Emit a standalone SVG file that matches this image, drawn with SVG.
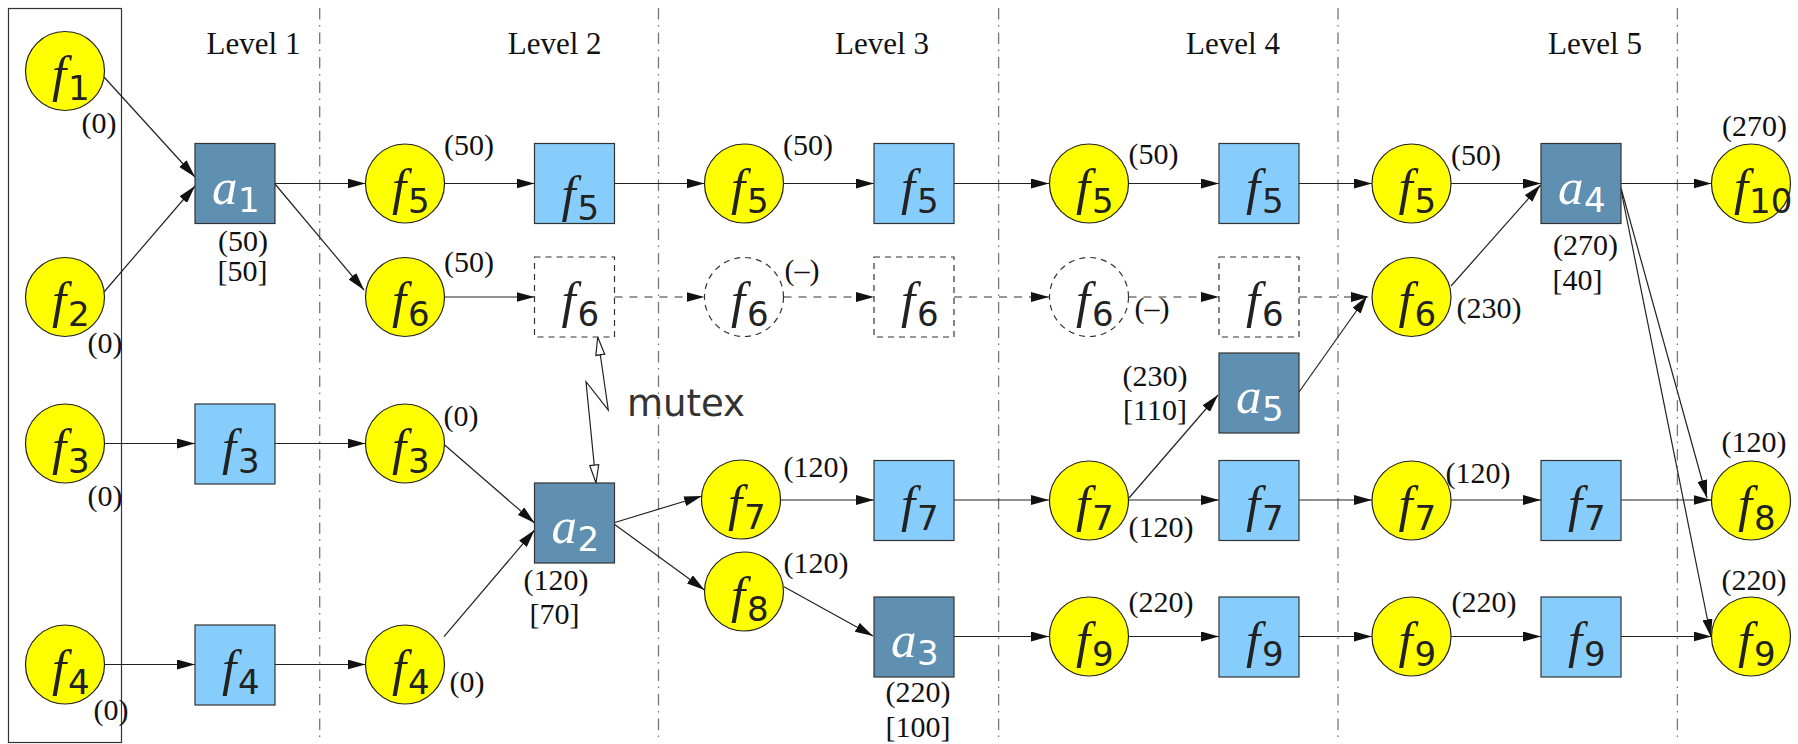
<svg xmlns="http://www.w3.org/2000/svg" width="1798" height="744" viewBox="0 0 1798 744">
<defs>
<style>
.c{fill:#ffff00;stroke:#222;stroke-width:1.2}
.cd{fill:none;stroke:#333;stroke-width:1.2;stroke-dasharray:6 5}
.sq{fill:#87cdfb;stroke:#333;stroke-width:1.2}
.dk{fill:#5f8fb1;stroke:#333;stroke-width:1.2}
.sqd{fill:none;stroke:#333;stroke-width:1.2;stroke-dasharray:6 5}
.f{font-family:'Liberation Serif',serif;font-style:italic;font-size:51px;fill:#222}
.s{font-family:'DejaVu Sans',sans-serif;font-style:normal;font-size:34px}
.w{fill:#fff}
.n{font-family:'Liberation Serif',serif;font-size:30px;fill:#111;text-anchor:middle}
.lv{font-family:'Liberation Serif',serif;font-size:31px;fill:#111;text-anchor:middle}
.mx{font-family:'DejaVu Sans',sans-serif;font-size:37px;fill:#333}
.e{fill:none;stroke:#222;stroke-width:1.2;marker-end:url(#ah)}
.ed{fill:none;stroke:#777;stroke-width:1.5;stroke-dasharray:8 7;marker-end:url(#ah)}
.sep{stroke:#777;stroke-width:1.3;stroke-dasharray:11.5 5.5 1.5 6}
.mu{fill:none;stroke:#222;stroke-width:1.2;marker-start:url(#oh);marker-end:url(#oh)}
</style>
<marker id="ah" markerUnits="userSpaceOnUse" markerWidth="18" markerHeight="10" refX="18" refY="5" orient="auto"><path d="M0,0 L18,5 L0,10 z" fill="#111"/></marker>
<marker id="oh" markerUnits="userSpaceOnUse" markerWidth="20" markerHeight="12" refX="19" refY="5.5" orient="auto-start-reverse"><path d="M1,1 L19,5.5 L1,10 z" fill="#fff" stroke="#222" stroke-width="1.2"/></marker>
</defs>
<rect width="1798" height="744" fill="#fff"/>

<g id="frame">
<rect x="8.5" y="8.5" width="113" height="734" fill="none" stroke="#333" stroke-width="1.2"/>
<line class="sep" x1="319.7" y1="8" x2="319.7" y2="738"/>
<line class="sep" x1="658.5" y1="8" x2="658.5" y2="738"/>
<line class="sep" x1="998.6" y1="8" x2="998.6" y2="738"/>
<line class="sep" x1="1338" y1="8" x2="1338" y2="738"/>
<line class="sep" x1="1677.4" y1="8" x2="1677.4" y2="738"/>
<text class="lv" x="253.5" y="54">Level 1</text>
<text class="lv" x="554.7" y="54">Level 2</text>
<text class="lv" x="882" y="54">Level 3</text>
<text class="lv" x="1233" y="54">Level 4</text>
<text class="lv" x="1595" y="54">Level 5</text>
</g>

<g id="connectors">
<line class="e" x1="104" y1="77" x2="195" y2="177"/>
<line class="e" x1="104" y1="292" x2="195" y2="186"/>
<line class="e" x1="275" y1="183.5" x2="365.5" y2="183.5"/>
<line class="e" x1="275" y1="184" x2="364" y2="290"/>
<line class="e" x1="104.5" y1="443.5" x2="195" y2="443.5"/>
<line class="e" x1="104.5" y1="664.5" x2="195" y2="664.5"/>
<line class="e" x1="275" y1="443.5" x2="365.5" y2="443.5"/>
<line class="e" x1="275" y1="664.5" x2="365.5" y2="664.5"/>
<line class="e" x1="444.5" y1="183.5" x2="534.5" y2="183.5"/>
<line class="e" x1="444.5" y1="297" x2="534.5" y2="297"/>
<line class="e" x1="444.7" y1="445" x2="534.6" y2="523"/>
<line class="e" x1="444" y1="636.7" x2="534.6" y2="530"/>
<line class="e" x1="614.5" y1="183.5" x2="704.5" y2="183.5"/>
<line class="ed" x1="614.5" y1="297" x2="704.5" y2="297"/>
<line class="e" x1="614" y1="522.7" x2="702" y2="496"/>
<line class="e" x1="614" y1="524" x2="704.5" y2="590"/>
<line class="e" x1="783.5" y1="183.5" x2="874" y2="183.5"/>
<line class="ed" x1="783.5" y1="297" x2="874" y2="297"/>
<line class="e" x1="780.5" y1="500" x2="874" y2="500"/>
<line class="e" x1="784" y1="586.7" x2="873" y2="636"/>
<line class="e" x1="954" y1="183.5" x2="1049" y2="183.5"/>
<line class="ed" x1="954" y1="297" x2="1049" y2="297"/>
<line class="e" x1="954" y1="500" x2="1049" y2="500"/>
<line class="e" x1="954" y1="636.5" x2="1049" y2="636.5"/>
<line class="e" x1="1128.5" y1="183.5" x2="1219" y2="183.5"/>
<line class="ed" x1="1128.5" y1="297" x2="1219" y2="297"/>
<line class="e" x1="1129" y1="498" x2="1218" y2="395"/>
<line class="e" x1="1128.5" y1="500" x2="1219" y2="500"/>
<line class="e" x1="1128.5" y1="636.5" x2="1219" y2="636.5"/>
<line class="e" x1="1299" y1="183.5" x2="1372" y2="183.5"/>
<line class="ed" x1="1299" y1="297" x2="1369" y2="297"/>
<line class="e" x1="1299" y1="392" x2="1367" y2="296"/>
<line class="e" x1="1299" y1="500" x2="1372" y2="500"/>
<line class="e" x1="1299" y1="636.5" x2="1372" y2="636.5"/>
<line class="e" x1="1451" y1="183.5" x2="1541" y2="183.5"/>
<line class="e" x1="1451" y1="286" x2="1540.5" y2="185"/>
<line class="e" x1="1451" y1="500" x2="1541" y2="500"/>
<line class="e" x1="1451" y1="636.5" x2="1541" y2="636.5"/>
<line class="e" x1="1621" y1="183.5" x2="1711.5" y2="183.5"/>
<line class="e" x1="1621" y1="188" x2="1707" y2="498"/>
<line class="e" x1="1621" y1="190" x2="1711" y2="637"/>
<line class="e" x1="1621" y1="500" x2="1711.5" y2="500"/>
<line class="e" x1="1621" y1="636.5" x2="1711.5" y2="636.5"/>
<path class="mu" d="M597.7,337 L608.3,410 L586,381.7 L596,483"/>
<text class="mx" x="627" y="416">mutex</text>
</g>

<g id="n_f1"><circle class="c" cx="65" cy="71" r="39.5"/><text class="f" x="52" y="91">f<tspan class="s" x="68" y="100">1</tspan></text><text class="n" x="99" y="133">(0)</text></g>
<g id="n_f2"><circle class="c" cx="65" cy="297" r="39.5"/><text class="f" x="52" y="317">f<tspan class="s" x="68" y="326">2</tspan></text><text class="n" x="105" y="353">(0)</text></g>
<g id="n_f3"><circle class="c" cx="65" cy="443.5" r="39.5"/><text class="f" x="52" y="463.5">f<tspan class="s" x="68" y="472.5">3</tspan></text><text class="n" x="105" y="506">(0)</text></g>
<g id="n_f4"><circle class="c" cx="65" cy="664.5" r="39.5"/><text class="f" x="52" y="684.5">f<tspan class="s" x="68" y="693.5">4</tspan></text><text class="n" x="111" y="720">(0)</text></g>

<g id="n_a1"><rect class="dk" x="195" y="143.5" width="80" height="80"/><text class="f w" x="212" y="203.5">a<tspan class="s" x="238" y="211.5">1</tspan></text><text class="n" x="243" y="251">(50)</text><text class="n" x="242.5" y="281">[50]</text></g>
<g id="n_f3b"><rect class="sq" x="195" y="404" width="80" height="80"/><text class="f" x="222" y="464">f<tspan class="s" x="238" y="473">3</tspan></text></g>
<g id="n_f4b"><rect class="sq" x="195" y="625" width="80" height="80"/><text class="f" x="222" y="685">f<tspan class="s" x="238" y="694">4</tspan></text></g>

<g id="n_f5c2"><circle class="c" cx="405" cy="183.5" r="39.5"/><text class="f" x="392" y="203.5">f<tspan class="s" x="408" y="212.5">5</tspan></text><text class="n" x="469" y="155">(50)</text></g>
<g id="n_f6c2"><circle class="c" cx="405" cy="297" r="39.5"/><text class="f" x="392" y="317">f<tspan class="s" x="408" y="326">6</tspan></text><text class="n" x="469" y="272">(50)</text></g>
<g id="n_f3c2"><circle class="c" cx="405" cy="443.5" r="39.5"/><text class="f" x="392" y="463.5">f<tspan class="s" x="408" y="472.5">3</tspan></text><text class="n" x="461" y="426">(0)</text></g>
<g id="n_f4c2"><circle class="c" cx="405" cy="664.5" r="39.5"/><text class="f" x="392" y="684.5">f<tspan class="s" x="408" y="693.5">4</tspan></text><text class="n" x="467" y="692">(0)</text></g>

<g id="n_f5b2"><rect class="sq" x="534.5" y="143.5" width="80" height="80"/><text class="f" x="561.5" y="211">f<tspan class="s" x="577.5" y="220">5</tspan></text></g>
<g id="n_f6b2"><rect class="sqd" x="534.5" y="257" width="80" height="80"/><text class="f" x="561.5" y="317">f<tspan class="s" x="577.5" y="326">6</tspan></text></g>
<g id="n_a2"><rect class="dk" x="534.5" y="483" width="80" height="80"/><text class="f w" x="551.5" y="543">a<tspan class="s" x="577.5" y="551">2</tspan></text><text class="n" x="556" y="590">(120)</text><text class="n" x="554.5" y="624">[70]</text></g>

<g id="n_f5c3"><circle class="c" cx="744" cy="183.5" r="39.5"/><text class="f" x="731" y="203.5">f<tspan class="s" x="747" y="212.5">5</tspan></text><text class="n" x="808" y="155">(50)</text></g>
<g id="n_f6c3"><circle class="cd" cx="744" cy="297" r="39.5"/><text class="f" x="731" y="317">f<tspan class="s" x="747" y="326">6</tspan></text><text class="n" x="802" y="280">(–)</text></g>
<g id="n_f7c3"><circle class="c" cx="741" cy="499.5" r="39.5"/><text class="f" x="728" y="519.5">f<tspan class="s" x="744" y="528.5">7</tspan></text><text class="n" x="816" y="477">(120)</text></g>
<g id="n_f8c3"><circle class="c" cx="744" cy="591.5" r="39.5"/><text class="f" x="731" y="611.5">f<tspan class="s" x="747" y="620.5">8</tspan></text><text class="n" x="816" y="573">(120)</text></g>

<g id="n_f5b3"><rect class="sq" x="874" y="143.5" width="80" height="80"/><text class="f" x="901" y="203.5">f<tspan class="s" x="917" y="212.5">5</tspan></text></g>
<g id="n_f6b3"><rect class="sqd" x="874" y="257" width="80" height="80"/><text class="f" x="901" y="317">f<tspan class="s" x="917" y="326">6</tspan></text></g>
<g id="n_f7b3"><rect class="sq" x="874" y="460.5" width="80" height="80"/><text class="f" x="901" y="520.5">f<tspan class="s" x="917" y="529.5">7</tspan></text></g>
<g id="n_a3"><rect class="dk" x="874" y="597" width="80" height="80"/><text class="f w" x="891" y="657">a<tspan class="s" x="917" y="665">3</tspan></text><text class="n" x="918" y="702">(220)</text><text class="n" x="918" y="737">[100]</text></g>

<g id="n_f5c4"><circle class="c" cx="1089" cy="183.5" r="39.5"/><text class="f" x="1076" y="203.5">f<tspan class="s" x="1092" y="212.5">5</tspan></text><text class="n" x="1153.5" y="164">(50)</text></g>
<g id="n_f6c4"><circle class="cd" cx="1089" cy="297" r="39.5"/><text class="f" x="1076" y="317">f<tspan class="s" x="1092" y="326">6</tspan></text><text class="n" x="1152" y="318">(–)</text></g>
<g id="n_f7c4"><circle class="c" cx="1089" cy="500.5" r="39.5"/><text class="f" x="1076" y="520.5">f<tspan class="s" x="1092" y="529.5">7</tspan></text><text class="n" x="1161" y="537">(120)</text></g>
<g id="n_f9c4"><circle class="c" cx="1089" cy="636.5" r="39.5"/><text class="f" x="1076" y="656.5">f<tspan class="s" x="1092" y="665.5">9</tspan></text><text class="n" x="1161" y="612">(220)</text></g>

<g id="n_f5b4"><rect class="sq" x="1219" y="143.5" width="80" height="80"/><text class="f" x="1246" y="203.5">f<tspan class="s" x="1262" y="212.5">5</tspan></text></g>
<g id="n_f6b4"><rect class="sqd" x="1219" y="257" width="80" height="80"/><text class="f" x="1246" y="317">f<tspan class="s" x="1262" y="326">6</tspan></text></g>
<g id="n_a5"><rect class="dk" x="1219" y="353" width="80" height="80"/><text class="f w" x="1236" y="413">a<tspan class="s" x="1262" y="421">5</tspan></text><text class="n" x="1155" y="386">(230)</text><text class="n" x="1155" y="420">[110]</text></g>
<g id="n_f7b4"><rect class="sq" x="1219" y="460.5" width="80" height="80"/><text class="f" x="1246" y="520.5">f<tspan class="s" x="1262" y="529.5">7</tspan></text></g>
<g id="n_f9b4"><rect class="sq" x="1219" y="597" width="80" height="80"/><text class="f" x="1246" y="657">f<tspan class="s" x="1262" y="666">9</tspan></text></g>

<g id="n_f5c5"><circle class="c" cx="1411.5" cy="183.5" r="39.5"/><text class="f" x="1398.5" y="203.5">f<tspan class="s" x="1414.5" y="212.5">5</tspan></text><text class="n" x="1476" y="165">(50)</text></g>
<g id="n_f6c5"><circle class="c" cx="1411.5" cy="297" r="39.5"/><text class="f" x="1398.5" y="317">f<tspan class="s" x="1414.5" y="326">6</tspan></text><text class="n" x="1489" y="318">(230)</text></g>
<g id="n_f7c5"><circle class="c" cx="1411.5" cy="500.5" r="39.5"/><text class="f" x="1398.5" y="520.5">f<tspan class="s" x="1414.5" y="529.5">7</tspan></text><text class="n" x="1478" y="483">(120)</text></g>
<g id="n_f9c5"><circle class="c" cx="1411.5" cy="636.5" r="39.5"/><text class="f" x="1398.5" y="656.5">f<tspan class="s" x="1414.5" y="665.5">9</tspan></text><text class="n" x="1484" y="612">(220)</text></g>

<g id="n_a4"><rect class="dk" x="1541" y="143.5" width="80" height="80"/><text class="f w" x="1558" y="203.5">a<tspan class="s" x="1584" y="211.5">4</tspan></text><text class="n" x="1585.5" y="255">(270)</text><text class="n" x="1577.5" y="290">[40]</text></g>
<g id="n_f7b5"><rect class="sq" x="1541" y="460.5" width="80" height="80"/><text class="f" x="1568" y="520.5">f<tspan class="s" x="1584" y="529.5">7</tspan></text></g>
<g id="n_f9b5"><rect class="sq" x="1541" y="597" width="80" height="80"/><text class="f" x="1568" y="657">f<tspan class="s" x="1584" y="666">9</tspan></text></g>

<g id="n_f10"><circle class="c" cx="1751" cy="183.5" r="39.5"/><text class="f" x="1734" y="203.5">f<tspan class="s" x="1749" y="212.5">10</tspan></text><text class="n" x="1754.5" y="136">(270)</text></g>
<g id="n_f8"><circle class="c" cx="1751" cy="500.5" r="39.5"/><text class="f" x="1738" y="520.5">f<tspan class="s" x="1754" y="529.5">8</tspan></text><text class="n" x="1754" y="452">(120)</text></g>
<g id="n_f9"><circle class="c" cx="1751" cy="636.5" r="39.5"/><text class="f" x="1738" y="656.5">f<tspan class="s" x="1754" y="665.5">9</tspan></text><text class="n" x="1754" y="590">(220)</text></g>
</svg>
